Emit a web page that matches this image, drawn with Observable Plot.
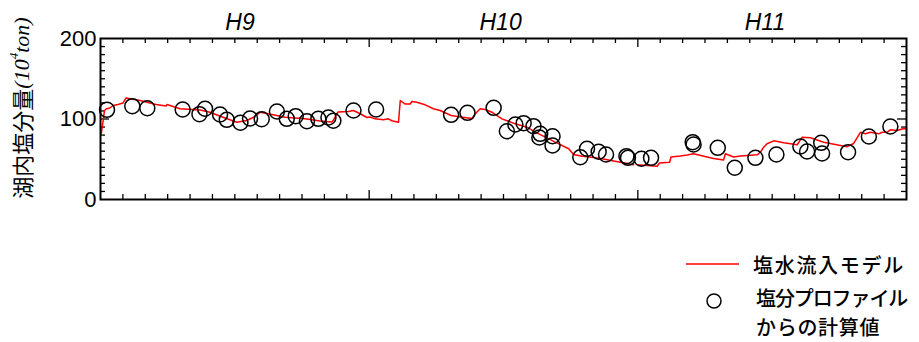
<!DOCTYPE html>
<html><head><meta charset="utf-8">
<script src="https://cdn.jsdelivr.net/npm/d3@7"></script>
<script src="https://cdn.jsdelivr.net/npm/@observablehq/plot@0.6"></script>
<style>
body{margin:0;background:#fff;font-family:"Liberation Sans",Arial,"Noto Sans CJK JP",sans-serif;}
#wrap{position:relative;width:919px;height:342px;overflow:hidden;}
#chart{position:absolute;left:0;top:0;}
#legend{position:absolute;left:0;top:220px;width:919px;height:122px;}
</style></head><body>
<div id="wrap"><div id="chart"></div><div id="legend"></div></div>
<script>
// Observed (salt profile) values: month since start of H9 (April), 10^4 ton
const obsMonth = [0.29,1.42,2.09,3.67,4.42,4.67,5.34,5.64,6.25,6.68,7.20,7.88,8.32,8.72,9.22,9.73,10.18,10.40,11.30,12.31,15.66,16.39,17.56,18.15,18.53,18.90,19.34,19.64,19.60,20.19,20.19,21.43,21.73,22.25,22.58,23.49,23.56,24.16,24.59,26.45,26.49,27.57,28.33,29.25,30.19,31.26,31.56,32.19,32.23,33.39,34.32,35.28];
const obsValue = [111.4,115.9,113.4,111.8,106.0,112.7,105.6,99.0,95.3,100.6,99.8,109.3,100.2,103.5,97.3,100.2,101.9,97.8,110.6,111.8,105.2,107.7,113.9,84.8,93.2,94.8,91.1,81.6,77.0,78.6,67.1,52.5,63.0,59.3,55.9,53.8,51.8,50.6,51.8,71.2,68.3,64.2,39.4,51.8,55.9,65.8,59.6,70.4,57.1,58.8,78.3,90.7];

// Saltwater inflow model
const modelMonth = [0.02,0.07,0.18,0.25,0.42,0.56,0.78,1.01,1.14,1.77,2.48,2.93,2.97,3.55,4.45,4.89,5.47,6.09,6.53,6.91,7.13,7.44,8.25,9.14,9.81,10.33,10.39,10.56,10.61,11.07,11.30,11.60,11.90,12.04,12.26,12.64,12.86,13.01,13.31,13.39,13.61,13.83,13.91,14.13,14.50,14.87,15.17,15.66,16.16,16.60,16.74,16.96,17.18,17.48,17.93,18.53,19.05,19.42,19.87,20.31,20.91,21.13,21.51,21.95,22.40,22.92,23.40,23.81,23.9,23.98,24.86,24.97,25.42,25.48,25.90,26.20,26.49,27.38,27.83,27.91,28.28,28.58,28.88,29.33,29.48,29.62,29.77,30.07,30.52,31.12,31.34,31.71,32.30,33.05,33.35,33.64,33.95,34.17,34.39,34.76,34.92,35.14,35.28,35.58,35.88,36.0];
const modelValue = [79.5,88.2,110.6,112.4,113.7,116.8,118.0,119.9,126.1,123.0,118.0,116.1,118.0,112.7,111.2,108.4,102.2,96.0,98.1,103.1,108.4,106.8,102.2,100.2,97.5,96.3,98.1,106.5,108.7,109.3,110.6,106.5,101.9,102.5,100.2,99.0,100.2,97.8,96.0,123.0,118.6,118.6,121.7,120.9,117.6,112.7,110.6,104.3,102.2,100.6,106.5,112.7,111.8,108.4,100.2,94.0,89.8,83.6,77.4,71.2,63.0,55.9,53.8,52.5,50.6,47.8,45.3,43.1,NaN,43.1,41.4,45.3,46.3,52.8,54.0,55.3,56.8,50.9,49.1,56.8,52.8,54.0,54.7,55.5,59.0,65.0,69.2,72.9,70.4,68.0,77.4,76.6,71.2,67.1,65.6,69.6,83.6,81.6,83.6,81.6,83.6,83.6,86.6,85.7,88.2,87.8];

const yearLabelText = ["H9","H10","H11"];
const yearLabelMonth = [6.23,17.87,29.68];
const yTickLabels = [0,100,200];
const monthTicks = d3.range(0,37);
const yearTicks = [12,24];
const valueTicks = d3.range(0,201,10);

const W=919,H=220,mL=100,mR=13,mT=38,mB=21;
const ph=H-mT-mB, pw=W-mL-mR;

const obs = obsMonth.map((m,i)=>({m, v:obsValue[i]}));
const model = modelMonth.map((m,i)=>({m, v:modelValue[i]}));
const years = yearLabelText.map((t,i)=>({t, m:yearLabelMonth[i]}));
const minorMonths = monthTicks.filter(m=>m%12!==0);
const minorVals = valueTicks.filter(v=>v%100!==0);
const majorVals = [100];

const tk = {stroke:"black", strokeWidth:1.3};
const chart = Plot.plot({
  width:W, height:H, marginLeft:mL, marginRight:mR, marginTop:mT, marginBottom:mB,
  style:{fontFamily:'"Liberation Sans",Arial,sans-serif', fontSize:"22px", color:"black", background:"white", overflow:"visible"},
  x:{domain:[0,36], axis:null},
  y:{domain:[0,200], ticks:yTickLabels, tickSize:0, tickPadding:4, label:null},
  marks:[
    Plot.ruleX(minorMonths,{x:d=>d, insetTop:ph-5, ...tk}),
    Plot.ruleX(minorMonths,{x:d=>d, insetBottom:ph-5, ...tk}),
    Plot.ruleX(yearTicks,{x:d=>d, insetTop:ph-9, ...tk}),
    Plot.ruleX(yearTicks,{x:d=>d, insetBottom:ph-9, ...tk}),
    Plot.ruleY(minorVals,{y:d=>d, insetRight:pw-5, ...tk}),
    Plot.ruleY(minorVals,{y:d=>d, insetLeft:pw-5, ...tk}),
    Plot.ruleY(majorVals,{y:d=>d, insetRight:pw-9, ...tk}),
    Plot.ruleY(majorVals,{y:d=>d, insetLeft:pw-9, ...tk}),
    Plot.line(model,{x:"m", y:"v", stroke:"red", strokeWidth:1.5}),
    Plot.dot(obs,{x:"m", y:"v", r:7.5, stroke:"black", strokeWidth:1.5, fill:"none"}),
    Plot.frame({stroke:"black", strokeWidth:2}),
    Plot.text(years,{x:"m", text:"t", frameAnchor:"top", lineAnchor:"middle", dy:-16, fontSize:23, fontStyle:"italic"})
  ]
});
document.getElementById("chart").appendChild(chart);

// y-axis title
const svg = d3.select(chart);
const t = svg.append("text")
  .attr("transform","translate(21,108) rotate(-90)")
  .attr("text-anchor","middle").attr("dominant-baseline","central")
  .attr("fill","black").attr("font-size",22);
t.append("tspan").attr("font-family",'"Noto Sans CJK JP",sans-serif').text("湖内塩分量");
t.append("tspan").attr("font-family",'"Liberation Serif","Times New Roman",serif').attr("font-style","italic").text("(10");
t.append("tspan").attr("font-family",'"Liberation Serif",serif').attr("font-style","italic").attr("font-size",13).attr("dy",-8).text("4");
t.append("tspan").attr("font-family",'"Liberation Serif",serif').attr("font-style","italic").attr("dy",8).text("ton)");

// legend
const lg = d3.select("#legend").append("svg").attr("width",919).attr("height",122);
const jf = '"Noto Sans CJK JP","Noto Sans",sans-serif';
lg.append("line").attr("x1",686).attr("x2",739).attr("y1",44).attr("y2",44).attr("stroke","red").attr("stroke-width",1.5);
lg.append("circle").attr("cx",714).attr("cy",81).attr("r",7).attr("fill","none").attr("stroke","black").attr("stroke-width",1.5);
const legendRows = [["塩水流入モデル",753,44,1.7],["塩分プロファイル",756,77,-1.1],["からの計算値",756,106.5,0.7]];
legendRows.forEach(([s,x,y,ls])=>{
  lg.append("text").attr("x",x).attr("y",y).attr("dominant-baseline","central")
    .attr("letter-spacing",ls)
    .attr("font-family",jf).attr("font-size",20).attr("font-weight",500).attr("fill","black").text(s);
});
</script>
</body></html>
